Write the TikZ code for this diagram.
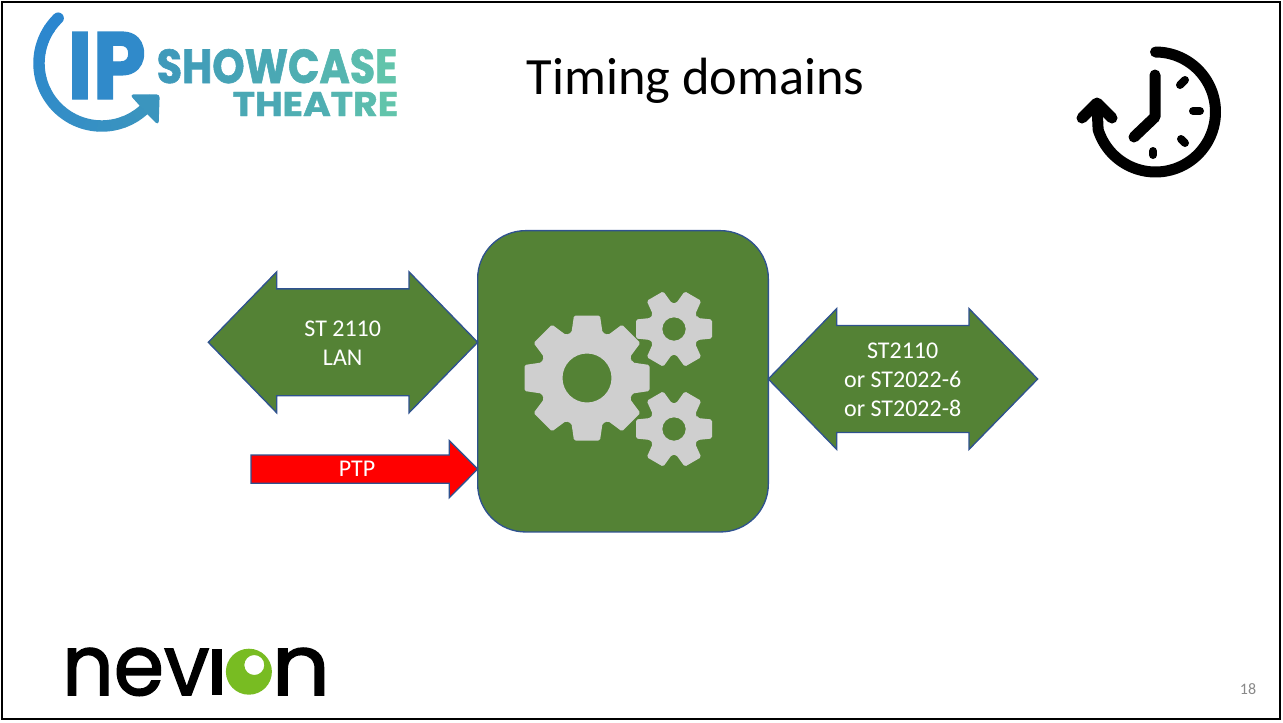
\documentclass[tikz,border=0pt]{standalone}
\usepackage{fontspec}
\usetikzlibrary{calc}
\setmainfont{Carlito}
\newfontfamily\logofont[BoldFeatures={FakeBold=1.3}]{Poppins}
\newfontfamily\nevfont[FakeBold=1.8]{Poppins}
\definecolor{boxgreen}{HTML}{548235}
\definecolor{boxedge}{HTML}{2F528F}
\definecolor{geargray}{HTML}{CFCFCF}
\definecolor{pagegray}{HTML}{898989}
\definecolor{nevgreen}{HTML}{78BC22}
\definecolor{ipa}{HTML}{2B86CF}
\definecolor{ipb}{HTML}{3B95BE}
\definecolor{s1}{HTML}{3F9ABA}\definecolor{s2}{HTML}{429EB8}\definecolor{s3}{HTML}{46A3B6}
\definecolor{s4}{HTML}{4AA8B4}\definecolor{s5}{HTML}{4FAEB2}\definecolor{s6}{HTML}{55B5B0}
\definecolor{s7}{HTML}{5BBCAE}\definecolor{s8}{HTML}{62C4AB}
\tikzset{
  arrowshape/.style={draw=boxedge,line width=1pt,line join=miter},
  arrowtext/.style={inner sep=0pt,text=white,align=center,font=\fontsize{18}{21.8}\selectfont},
  mainbox/.style={draw=boxedge,line width=1pt,fill=boxgreen,rounded corners=36pt,minimum width=218pt,minimum height=226pt},
  clockline/.style={draw=black,line width=8.25pt,line cap=round,line join=round},
  clocktick/.style={draw=black,line width=6pt,line cap=round},
  logotext/.style={inner sep=0pt,anchor=base west},
}
\newcommand{\gearshape}[7]{% cx cy teeth tipr tiphalf rootr basehalf; hole from \gearhole
  \def\gcx{#1}\def\gcy{#2}
  \pgfmathsetmacro{\galong}{sqrt(#6*#6-#7*#7)}
  \fill[geargray,even odd rule,rounded corners=1.2pt]
    ({\gcx+\galong*cos(0)+#7*sin(0)},{\gcy+\galong*sin(0)-#7*cos(0)})
    \foreach \k in {1,...,#3}{
      \pgfextra{\pgfmathsetmacro{\a}{360/#3*(\k-1)}}
      -- ({\gcx+\galong*cos(\a)+#7*sin(\a)},{\gcy+\galong*sin(\a)-#7*cos(\a)})
      -- ({\gcx+#4*cos(\a)+#5*sin(\a)},{\gcy+#4*sin(\a)-#5*cos(\a)})
      -- ({\gcx+#4*cos(\a)-#5*sin(\a)},{\gcy+#4*sin(\a)+#5*cos(\a)})
      -- ({\gcx+\galong*cos(\a)-#7*sin(\a)},{\gcy+\galong*sin(\a)+#7*cos(\a)})
    } -- cycle
    (\gcx,\gcy) circle[radius=\gearhole];
}
% double arrow: left x, head x 1, head x 2, right x, centre y, shaft half, head half
\newcommand{\dblarrowshape}[7]{%
  \draw[arrowshape,fill=boxgreen] (#1,#5) -- (#2,#5-#7) -- (#2,#5-#6) -- (#3,#5-#6) -- (#3,#5-#7)
    -- (#4,#5) -- (#3,#5+#7) -- (#3,#5+#6) -- (#2,#5+#6) -- (#2,#5+#7) -- cycle;
}
\begin{document}
\begin{tikzpicture}[x=0.75pt,y=-0.75pt]
\useasboundingbox (0,0) rectangle (1283,722);
% slide frame
\draw[black,line width=1.75pt] (2.2,2.2) rectangle (1280.2,719.2);

% IP logo: ring
\foreach \i in {0,...,15}{
  \pgfmathsetmacro{\sa}{134+\i*12}
  \pgfmathsetmacro{\sb}{134+(\i+1)*12}
  \pgfmathsetmacro{\mixv}{100-\i*100/15}
  \ifnum\i=0 \def\capst{round}\else\def\capst{butt}\fi
  \draw[color=ipa!\mixv!ipb,line width=8.6pt,line cap=\capst,domain=\sa:\sb+0.5,samples=8]
    plot ({101.7+62.7*cos(\x)},{63.3-62.7*sin(\x)});
}
\fill[ipb,rounded corners=2pt,draw=ipb,line width=1pt,line join=round] (131,95) -- (159,95) -- (158,124) -- (148,114) -- cycle;
\node[logotext,text=ipa!70!ipb] (ip) at (67,99) {\resizebox{59pt}{50.25pt}{\logofont\bfseries IP}};
\node[logotext] (showcase) at (156.5,83) {\resizebox{180.5pt}{25.5pt}{\logofont\bfseries
  \textcolor{s1}{S}\textcolor{s2}{H}\textcolor{s3}{O}\textcolor{s4}{W}\textcolor{s5}{C}\textcolor{s6}{A}\textcolor{s7}{S}\textcolor{s8}{E}}};
\node[logotext] (theatre) at (232.5,116) {\resizebox{124pt}{18pt}{\logofont\bfseries
  \textcolor{s4}{T}\textcolor{s4}{H}\textcolor{s5}{E}\textcolor{s5}{A}\textcolor{s6}{T}\textcolor{s7}{R}\textcolor{s8}{E}}};

% title
\node[inner sep=0pt,anchor=base,font=\fontsize{39.3}{47}\selectfont] (title) at (695.5,94) {Timing domains};

% clock icon
\draw[clockline,domain=90:-163,samples=90]
  plot ({1155.5+60*cos(\x)},{112-60*sin(\x)}) -- (1097,105);
\draw[clockline] (1082,118) -- (1097,103) -- (1112,118);
\draw[clockline] (1155,75) -- (1155,117) -- (1134,137);
\draw[clocktick] (1180,85) -- (1185,80);
\draw[clocktick] (1193,111) -- (1200,111);
\draw[clocktick] (1181,139) -- (1185,143);
\draw[clocktick] (1153,151) -- (1153,155);

% central box
\node[mainbox] (core) at (623,381.3) {};
\def\gearhole{24.5}
\gearshape{587}{378}{8}{62.5}{13}{48}{15.5}
\def\gearhole{11.7}
\gearshape{674}{329}{6}{38}{9.5}{26}{11}
\gearshape{674}{429}{6}{38}{9.5}{26}{11}

% arrows
\dblarrowshape{208.3}{276.7}{409}{477.7}{342.3}{53.4}{70.5}
\node[arrowtext] (lan) at (342.7,343.5) {ST 2110\\LAN};
\dblarrowshape{768.3}{836.7}{969}{1037.7}{379}{53.5}{70.4}
\node[arrowtext] (out) at (902.7,379.5) {ST2110\\or ST2022-6\\or ST2022-8};
\draw[arrowshape,fill=red] (251,455) -- (449.3,455) -- (449.3,440.7) -- (477.7,469) -- (449.3,497.7) -- (449.3,483.3) -- (251,483.3) -- cycle;
\node[arrowtext] (ptp) at (357,469) {PTP};

% nevion logo
\node[logotext] (nev) at (61.75,695) {\resizebox{110.5pt}{35.25pt}{\nevfont nev}};
\fill[black] (211.7,649) rectangle (221.7,695);
\fill[nevgreen,even odd rule] (248.9,671.7) circle[radius=23] (254.3,665) circle[radius=10];
\node[logotext] (nevn) at (271.5,695) {\resizebox{43.7pt}{35.25pt}{\nevfont n}};

% page number
\node[inner sep=0pt,anchor=base,text=pagegray,font=\fontsize{12}{14}\selectfont] (page) at (1248,694) {18};
\end{tikzpicture}
\end{document}
